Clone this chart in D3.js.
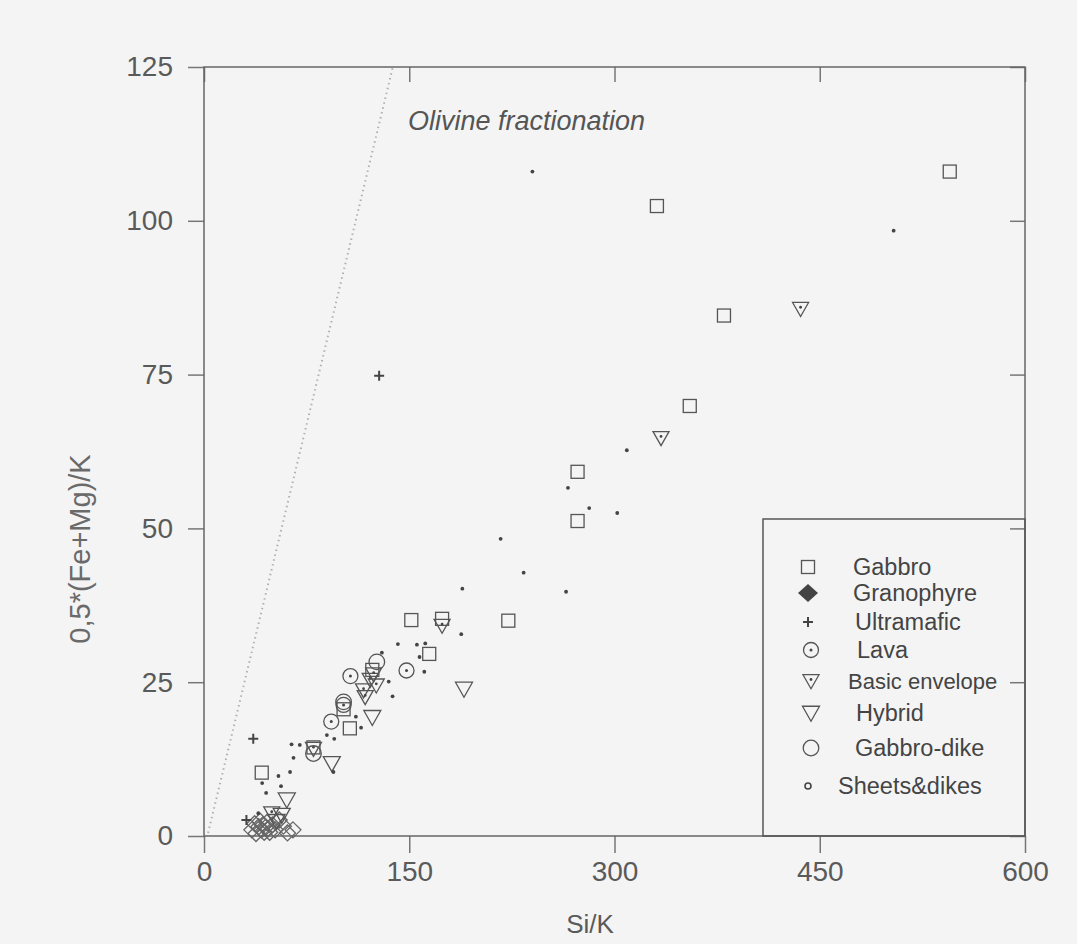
<!DOCTYPE html>
<html>
<head>
<meta charset="utf-8">
<script src="https://cdn.jsdelivr.net/npm/d3@7"></script>
<style>
  body { margin: 0; background: #f4f4f4; }
  svg { display: block; font-family: "Liberation Sans", Arial, sans-serif; }
</style>
</head>
<body>
<svg id="chart" width="1077" height="944"></svg>
<script>
// values: [Si/K, 0.5*(Fe+Mg)/K]
const gabbro = [[545,108],[331,102.4],[380,84.6],[355,69.9],[273,59.2],[273,51.2],[151.5,35.1],[174,35.3],
  [222.4,35.0],[164.6,29.6],[123,27.0],[102,20.6],[106.6,17.5],[80,14.4],[42.2,10.3]];
const granophyre = [[35,1.0],[37,2.0],[38,0.4],[40,1.5],[41,2.4],[42,1.0],[43,1.8],[44,0.6],[45,1.4],[46,2.2],
  [47,1.2],[48,0.6],[50,1.8],[52,1.0],[55,2.6],[58,1.6],[61,0.5],[65,1.0]];
const ultramafic = [[36,15.8],[128,74.8],[31,2.6]];
const lava = [[107,26],[148,26.9],[93,18.6],[102,21.3]];
const basicEnvelope = [[174,34.2],[121.5,25.4],[125.9,24.5],[116.6,23.7],[117.8,22.6],[436,85.7],[334,64.7],
  [80,14.2],[124,26.3],[49.5,3.7]];
const hybrid = [[190,23.9],[123,19.3],[93.4,11.8],[60.5,5.9],[56.8,3.4],[53,2.4]];
const gabbroDike = [[126.3,28.3],[80,13.4],[102,21.8]];
const sheetsDikes = [[240,108],[504,98.4],[309,62.7],[266,56.6],[281.5,53.3],[302,52.5],[216.8,48.3],[233.6,42.8],
  [188.8,40.2],[264.6,39.7],[188,32.8],[141.7,31.2],[155.6,31.1],[161.7,31.3],[157.5,29.1],[130,29.8],[161,26.7],
  [135,25.1],[137.8,22.7],[111,19.4],[114.8,17.6],[89.8,16.4],[95.2,15.8],[64,14.9],[70,14.8],[65.4,12.7],
  [94.6,10.4],[62.9,10.4],[54.4,9.75],[42.5,8.6],[56.3,8.1],[45.4,7.0],[39.7,3.7]];
const olivineLine = [[3,0.5],[138,125]];

const xTicks = [0,150,300,450,600];
const yTicks = [0,25,50,75,100,125];
const legendNames = ["Gabbro","Granophyre","Ultramafic","Lava","Basic envelope","Hybrid","Gabbro-dike","Sheets&dikes"];

const svg = d3.select("#chart");
const ink = "#555";
const plotL = 204, plotR = 1025, plotT = 67, plotB = 836;

const x = d3.scaleLinear().domain([0,600]).range([plotL,plotR]);
const y = d3.scaleLinear().domain([0,125]).range([plotB,plotT]);

// axes
const axB = svg.append("g").attr("transform","translate(0,"+plotB+")")
  .call(d3.axisBottom(x).tickValues(xTicks).tickSize(17).tickPadding(8).tickSizeOuter(0));
const axL = svg.append("g").attr("transform","translate("+plotL+",0)")
  .call(d3.axisLeft(y).tickValues(yTicks).tickSize(16).tickPadding(15).tickSizeOuter(0));
const axT = svg.append("g").attr("transform","translate(0,"+plotT+")")
  .call(d3.axisTop(x).tickValues(xTicks).tickSize(-15).tickFormat("").tickSizeOuter(0));
const axR = svg.append("g").attr("transform","translate("+plotR+",0)")
  .call(d3.axisRight(y).tickValues(yTicks).tickSize(-15).tickFormat("").tickSizeOuter(0));

for (let g of [axB,axL,axT,axR]){
  g.select(".domain").remove();
  g.selectAll("line").attr("stroke","#777").attr("stroke-width",1.5);
  g.selectAll("text").attr("fill","#5a5a5a").attr("font-size",28).attr("font-family","Liberation Sans, Arial, sans-serif");
}

svg.append("rect").attr("x",plotL).attr("y",plotT).attr("width",plotR-plotL).attr("height",plotB-plotT)
  .attr("fill","none").attr("stroke","#666").attr("stroke-width",1.5);

// axis titles
svg.append("text").attr("x",590).attr("y",933).attr("text-anchor","middle")
  .attr("font-size",26).attr("fill","#5a5a5a").text("Si/K");
svg.append("text").attr("transform","translate(90,549) rotate(-90)").attr("text-anchor","middle")
  .attr("font-size",29).attr("fill","#6a6a6a").text("0,5*(Fe+Mg)/K");

// olivine fractionation trend
svg.append("path").datum(olivineLine)
  .attr("d", d3.line().x(d => x(d[0])).y(d => y(d[1])))
  .attr("fill","none").attr("stroke","#b0b0b0").attr("stroke-width",2).attr("stroke-dasharray","1.5,3.5");
svg.append("text").attr("x",408).attr("y",130).attr("font-size",27).attr("font-style","italic")
  .attr("fill","#555").text("Olivine fractionation");

// symbol drawers
const downTri = (w,h) => "M"+(-w/2)+","+(-h*0.45)+"L"+(w/2)+","+(-h*0.45)+"L0,"+(h*0.55)+"Z";
const drawers = {
  square: (g) => g.append("rect").attr("x",-6.5).attr("y",-6.5).attr("width",13).attr("height",13)
      .attr("fill","none").attr("stroke",ink).attr("stroke-width",1.3),
  diamondOpen: (g) => g.append("path").attr("d","M0,-8L8,0L0,8L-8,0Z")
      .attr("fill","none").attr("stroke","#666").attr("stroke-width",1.3),
  diamondFill: (g) => g.append("path").attr("d","M0,-9L10,0L0,9L-10,0Z").attr("fill","#444"),
  plus: (g) => g.append("path").attr("d","M-5,0H5M0,-5V5").attr("stroke","#444").attr("stroke-width",2),
  lava: (g) => { g.append("circle").attr("r",7.5).attr("fill","none").attr("stroke",ink).attr("stroke-width",1.3);
      g.append("circle").attr("r",1.5).attr("fill","#444"); },
  basic: (g) => { g.append("path").attr("d",downTri(16,14)).attr("fill","none").attr("stroke",ink).attr("stroke-width",1.3);
      g.append("circle").attr("cy",-1.5).attr("r",1.4).attr("fill","#444"); },
  hybrid: (g) => g.append("path").attr("d",downTri(17,15)).attr("fill","none").attr("stroke",ink).attr("stroke-width",1.3),
  dike: (g) => g.append("circle").attr("r",7.8).attr("fill","none").attr("stroke",ink).attr("stroke-width",1.3),
  dot: (g) => g.append("circle").attr("r",1.9).attr("fill","#444")
};

function plotSeries(data, kind){
  const gs = svg.append("g").selectAll("g").data(data).join("g")
    .attr("transform", d => "translate("+x(d[0])+","+y(d[1])+")");
  gs.each(function(){ drawers[kind](d3.select(this)); });
}

plotSeries(granophyre,"diamondOpen");
plotSeries(gabbro,"square");
plotSeries(hybrid,"hybrid");
plotSeries(basicEnvelope,"basic");
plotSeries(lava,"lava");
plotSeries(gabbroDike,"dike");
plotSeries(ultramafic,"plus");
plotSeries(sheetsDikes,"dot");

// legend
svg.append("rect").attr("x",763).attr("y",519).attr("width",plotR-763).attr("height",plotB-519)
  .attr("fill","none").attr("stroke","#555").attr("stroke-width",1.5);

const legendKinds = ["square","diamondFill","plus","lava","basic","hybrid","dike","dot"];
const legendY = [567,593,622,650,681,713,748,786];
const legendTextX = [853,853,855,857,848,856,855,838];
const legendFont = [23.5,23.5,23.5,23.5,22,23.5,23.5,23.5];

legendNames.forEach((name,i) => {
  const g = svg.append("g").attr("transform","translate("+(i==0||i==1||i==2||i==7?808:811)+","+legendY[i]+")");
  if (legendKinds[i]=="dot"){
    g.append("circle").attr("r",3).attr("fill","none").attr("stroke","#444").attr("stroke-width",1.6);
  } else {
    drawers[legendKinds[i]](g);
  }
  svg.append("text").attr("x",legendTextX[i]).attr("y",legendY[i]).attr("dy","0.35em")
    .attr("font-size",legendFont[i]).attr("fill","#444").text(name);
});
</script>
</body>
</html>
